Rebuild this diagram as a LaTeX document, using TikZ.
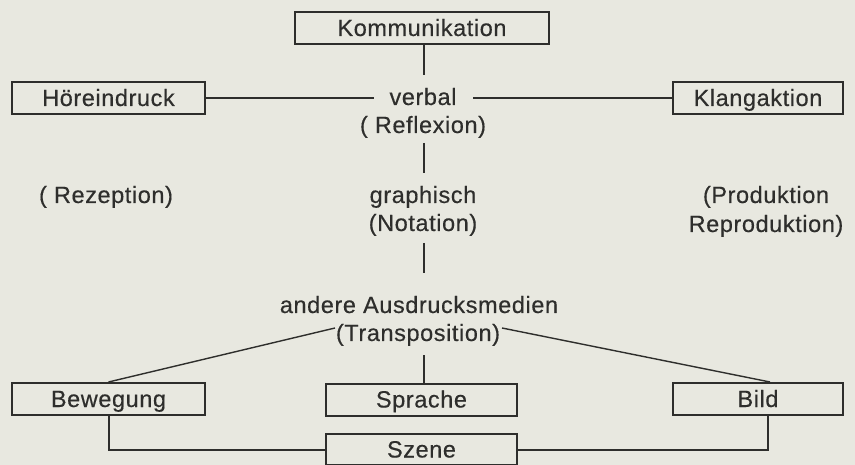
\documentclass[tikz,border=0pt]{standalone}
\usepackage{fontspec}
\setmainfont{Liberation Sans}[LetterSpace=2.5, FakeBold=0.4]
\usetikzlibrary{calc}
\definecolor{ink}{HTML}{2E2E2C}
\definecolor{paper}{HTML}{E8E8E0}
\begin{document}
\begin{tikzpicture}[x=1pt,y=-1pt,
  txt/.style={text=ink, inner sep=0pt, text height=17pt, text depth=5pt, font=\fontsize{23.5}{29}\selectfont},
  box/.style={txt, text height=17pt, text depth=1pt, draw=ink, line width=2pt, minimum height=32pt},
  conn/.style={draw=ink, line width=2pt},
  diag/.style={draw=ink, line width=1.4pt}]
\fill[paper] (0,0) rectangle (855,465);
\useasboundingbox (0,0) rectangle (855,465);
% boxes
\node[box, minimum width=254pt] (komm) at (422,28) {Kommunikation};
\node[box, minimum width=193pt] (hoer) at (108.5,98) {Höreindruck};
\node[box, minimum width=170pt] (klang) at (758,98) {Klangaktion};
\node[box, minimum width=193pt] (bew) at (108.5,399) {Bewegung};
\node[box, minimum width=191pt] (spr) at (421.5,399.5) {Sprache};
\node[box, minimum width=170pt] (bild) at (758,399) {Bild};
\node[box, minimum width=191pt, minimum height=31pt] (szene) at (421.5,449.5) {Szene};
% text labels
\node[txt] (verbal) at (423,99) {verbal};
\node[txt] (refl) at (423,127) {( Reflexion)};
\node[txt] (graph) at (423,197) {graphisch};
\node[txt] (nota) at (423,225) {(Notation)};
\node[txt] (andere) at (419,307) {andere Ausdrucksmedien};
\node[txt] (trans) at (418,335) {(Transposition)};
\node[txt] (rez) at (106,197) {( Rezeption)};
\node[txt] (prod) at (766,197) {(Produktion};
\node[txt] (reprod) at (766,226) {Reproduktion)};
\coordinate (axis) at (424,0);
\coordinate (tl) at (335,328);
\coordinate (tr) at (502,328);
% connectors
\draw[conn, shorten >=24pt] (axis |- komm.south) -- (axis |- verbal.center);
\draw[conn, shorten >=49pt] (hoer.east) -- (hoer.east -| verbal.center);
\draw[conn, shorten <=50pt] (klang.west -| verbal.center) -- (klang.west);
\draw[conn, shorten <=16pt, shorten >=24pt] (axis |- refl.center) -- (axis |- graph.center);
\draw[conn, shorten <=18pt, shorten >=34pt] (axis |- nota.center) -- (axis |- andere.center);
\draw[conn, shorten >=20pt] (axis |- spr.north) -- (axis |- trans.center);
\draw[diag] (tl) -- (bew.north);
\draw[diag] (tr) -- ([xshift=12pt]bild.north);
\draw[conn] (bew.south) |- (szene.west);
\draw[conn] (szene.east) -| ([xshift=10pt]bild.south);
\end{tikzpicture}
\end{document}
